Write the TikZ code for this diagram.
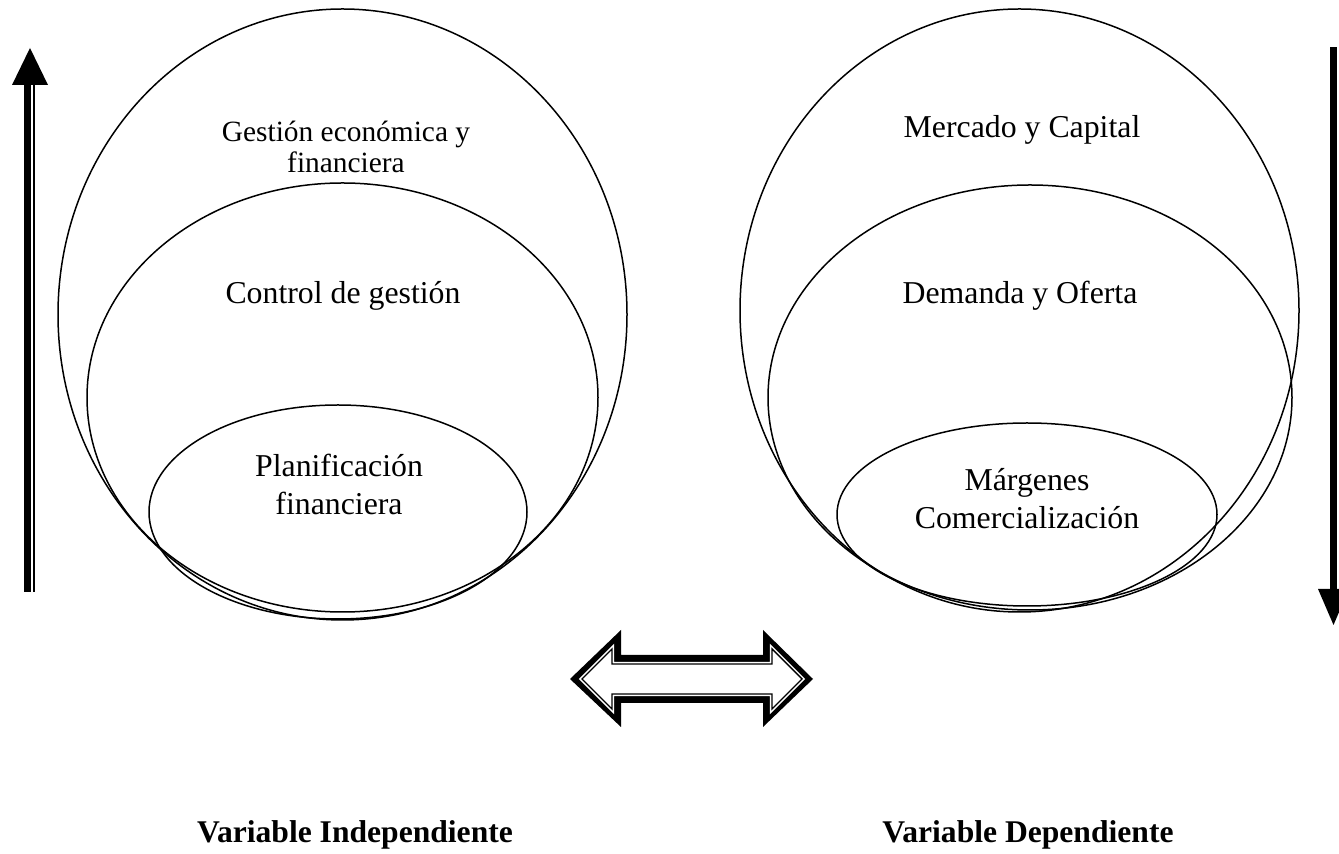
\documentclass[tikz,border=0pt]{standalone}
\usepackage{fontspec}
\setmainfont{Liberation Serif}
\usetikzlibrary{shapes.geometric}
\usetikzlibrary{positioning}

\begin{document}
\begin{tikzpicture}[x=0.5pt,y=-0.5pt,
  ring/.style={draw,shape=ellipse,line width=0.75pt,inner sep=0pt},
  txt/.style={align=center,font=\fontsize{15.9}{19}\selectfont},
  smalltxt/.style={align=center,font=\fontsize{14.7}{15.8}\selectfont},
  vartxt/.style={font=\fontsize{15.8}{18}\selectfont\bfseries}]
\useasboundingbox (0,0) rectangle (1339,854);

%left group
\node[ring,minimum width=284.5pt,minimum height=305.5pt] (outerL) at (342.5,314.5) {};
\node[ring,minimum width=255.5pt,minimum height=214.5pt] (midL) at (342.5,397.5) {};
\node[ring,minimum width=189pt,minimum height=107pt] (innerL) at (338,512) {};
\node[smalltxt] (gestion) at (346,147) {Gestión económica y\\financiera};
\node[txt] (control) at (343,296) {Control de gestión};
\node[txt] (planif) at (339,484) {Planificación\\financiera};

%right group
\node[ring,minimum width=279.5pt,minimum height=301.5pt] (outerR) at (1019.5,310.5) {};
\node[ring,minimum width=262pt,minimum height=212.5pt] (midR) at (1030,397.5) {};
\node[ring,minimum width=190pt,minimum height=91.5pt] (innerR) at (1027,514.5) {};
\node[txt] (mercado) at (1022,130) {Mercado y Capital};
\node[txt] (demanda) at (1020,296) {Demanda y Oferta};
\node[txt] (margenes) at (1027,499) {Márgenes\\Comercialización};

%up arrow (left)
\fill (24,85) rectangle (31,592);
\fill (33,85) rectangle (35,592);
\fill (12,85) -- (30,48) -- (48,85) -- cycle;

%down arrow (right)
\fill (1330,47) rectangle (1337,590);
\fill (1318,589) -- (1349,589) -- (1333.5,625) -- cycle;

%double arrow
\fill (570,679) -- (621,630) -- (621,655) -- (763,655) -- (763,630) -- (813,679)
  -- (763,727) -- (763,703) -- (621,703) -- (621,727) -- cycle;
\draw[white,line width=2.2pt] (582,679) -- (612,649) -- (612,664) -- (772,664) -- (772,649)
  -- (802,679) -- (772,709) -- (772,694) -- (612,694) -- (612,709) -- cycle;
\filldraw[fill=white,draw=black,line width=0.7pt] (582,679) -- (612,649) -- (612,664) -- (772,664)
  -- (772,649) -- (802,679) -- (772,709) -- (772,694) -- (612,694) -- (612,709) -- cycle;

%labels
\node[vartxt] (varInd) at (355,835) {Variable Independiente};
\node[vartxt] (varDep) at (1028,835) {Variable Dependiente};
\end{tikzpicture}
\end{document}
